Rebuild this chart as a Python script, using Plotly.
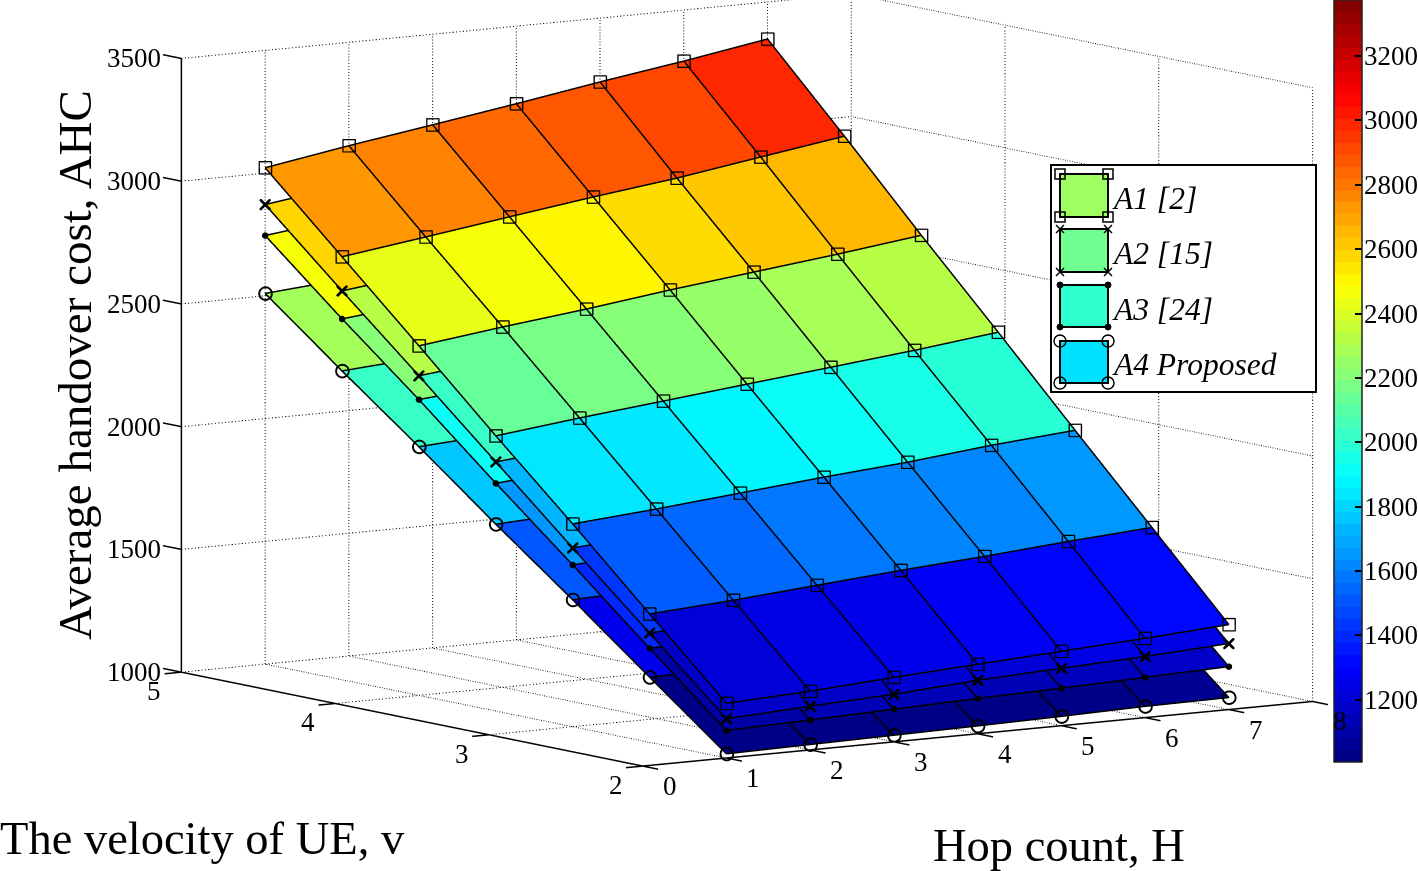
import numpy as np
import plotly.graph_objects as go

W, H = 1418, 871
hop = [1, 2, 3, 4, 5, 6, 7]
vel = [2, 2.5, 3, 3.5, 4, 4.5, 5]
x_ticks = [0, 1, 2, 3, 4, 5, 6, 7, 8]
y_ticks = [2, 3, 4, 5]
z_ticks = [1000, 1500, 2000, 2500, 3000, 3500]
cbar_ticks = [1200, 1400, 1600, 1800, 2000, 2200, 2400, 2600, 2800, 3000, 3200]

A1 = [[1223, 1239, 1263, 1283, 1303, 1323, 1346],
      [1523, 1546, 1574, 1602, 1626, 1654, 1678],
      [1826, 1854, 1886, 1918, 1946, 1982, 2010],
      [2121, 2161, 2197, 2233, 2269, 2305, 2346],
      [2424, 2468, 2508, 2553, 2593, 2633, 2677],
      [2723, 2771, 2820, 2868, 2912, 2965, 3017],
      [3022, 3079, 3131, 3184, 3240, 3292, 3349]]
A2 = [[1160, 1178, 1194, 1218, 1234, 1249, 1269],
      [1445, 1468, 1491, 1514, 1537, 1560, 1585],
      [1728, 1755, 1782, 1809, 1836, 1863, 1893],
      [2015, 2047, 2079, 2111, 2143, 2175, 2210],
      [2302, 2339, 2376, 2413, 2450, 2487, 2527],
      [2584, 2626, 2668, 2710, 2752, 2794, 2839],
      [2872, 2920, 2968, 3016, 3064, 3112, 3162]]
A3 = [[1112, 1122, 1133, 1144, 1153, 1164, 1175],
      [1383, 1399, 1415, 1431, 1447, 1463, 1480],
      [1659, 1681, 1703, 1725, 1747, 1769, 1792],
      [1928, 1955, 1982, 2009, 2036, 2063, 2092],
      [2205, 2237, 2269, 2301, 2333, 2365, 2399],
      [2470, 2506, 2542, 2578, 2614, 2650, 2688],
      [2746, 2787, 2828, 2869, 2910, 2951, 2994]]
A4 = [[1017, 1022, 1027, 1032, 1038, 1046, 1049],
      [1265, 1275, 1285, 1295, 1305, 1315, 1326],
      [1517, 1531, 1545, 1559, 1573, 1587, 1602],
      [1761, 1779, 1797, 1815, 1833, 1851, 1870],
      [2013, 2035, 2057, 2079, 2101, 2123, 2146],
      [2258, 2283, 2308, 2333, 2358, 2383, 2409],
      [2510, 2538, 2566, 2594, 2622, 2650, 2679]]

series = [("A1 [2]", A1, "square-open", 5.5, "#A0FF60"),
          ("A2 [15]", A2, "x", 2.5, "#70FF90"),
          ("A3 [24]", A3, "circle", 3.5, "#30FFD0"),
          ("A4 Proposed", A4, "circle-open", 8, "#00E0FF")]

CMIN, CMAX = 1007, 3374
SERIF = "Liberation Serif"


def jet(t):
    r = np.clip(min(4 * t - 1.5, -4 * t + 4.5), 0, 1)
    g = np.clip(min(4 * t - 0.5, -4 * t + 3.5), 0, 1)
    b = np.clip(min(4 * t + 0.5, -4 * t + 2.5), 0, 1)
    return f"rgb({int(r*255)},{int(g*255)},{int(b*255)})"


jet64 = []
for n in range(64):
    c = jet((n + 0.5) / 64)
    jet64 += [[n / 64, c], [(n + 1) / 64, c]]

# camera
xr, yr, zr = [-0.25, 8.25], [1.8, 5.2], [900, 3600]
ax_len = 820 / 8 * 8.5
ZOOM = 2.0
asp = dict(x=ZOOM * 0.992, y=ZOOM * 1.006 * 809 / 3 * 3.4 / ax_len, z=ZOOM * 620 / 2500 * 2700 / ax_len)
SCALE = 871.0 / ZOOM
DIST = 4.0
e = np.array([-0.561, -0.815, 0.14])
e = e / np.linalg.norm(e)
h = np.hypot(e[0], e[1])
r_v = np.array([-e[1], e[0], 0]) / h
u_v = np.array([-e[0] * e[2], -e[1] * e[2], h]) / h
DX, DY = 38, -55
center = (-DX * r_v + DY * u_v) / SCALE
eye = center + DIST * e


def toward_viewer(px):
    """data-space offset that moves a point towards the camera without moving it on screen"""
    w = e * px / SCALE
    return (w[0] * (xr[1] - xr[0]) / asp["x"], w[1] * (yr[1] - yr[0]) / asp["y"], w[2] * (zr[1] - zr[0]) / asp["z"])


fig = go.Figure()


def line3d(xs, ys, zs, dash="solid", width=2, color="black"):
    fig.add_trace(go.Scatter3d(x=xs, y=ys, z=zs, mode="lines", showlegend=False, hoverinfo="skip",
                               line=dict(color=color, width=width, dash=dash)))


# dotted grid
GRID = dict(dash="dot", width=2, color="#111111")
for xv in x_ticks:
    line3d([xv, xv], [2, 5], [1000, 1000], **GRID)
    line3d([xv, xv], [5, 5], [1000, 3500], **GRID)
for yv in y_ticks:
    line3d([0, 8], [yv, yv], [1000, 1000], **GRID)
    line3d([8, 8], [yv, yv], [1000, 3500], **GRID)
for zv in z_ticks:
    line3d([0, 8], [5, 5], [zv, zv], **GRID)
    line3d([8, 8], [2, 5], [zv, zv], **GRID)

# axes and tick marks
line3d([0, 8], [2, 2], [1000, 1000], width=3)
line3d([0, 0], [2, 5], [1000, 1000], width=3)
line3d([0, 0], [5, 5], [1000, 3500], width=3)
for xv in x_ticks:
    line3d([xv, xv], [2, 1.9], [1000, 1000], width=3)
for yv in y_ticks:
    line3d([0, -0.2], [yv, yv], [1000, 1000], width=3)
for zv in z_ticks:
    line3d([0, 0], [5, 5.12], [zv, zv], width=3)

# surfaces
ox, oy, oz = toward_viewer(3)
mx, my, mz = toward_viewer(14)
for idx, (name, Z, sym, size, _) in enumerate(series):
    Z = np.array(Z, float)
    X, Y = np.meshgrid(hop, vel)
    X = X.astype(float)
    Y = Y.astype(float)
    ny, nx = Z.shape
    ii, jj, kk, cell = [], [], [], []
    for r in range(ny - 1):
        for c in range(nx - 1):
            a = r * nx + c
            b = a + 1
            d = a + nx
            f = d + 1
            ii += [a, a]
            jj += [b, f]
            kk += [f, d]
            cell += [Z[r, c], Z[r, c]]
    fig.add_trace(go.Mesh3d(
        x=X.ravel(), y=Y.ravel(), z=Z.ravel(), i=ii, j=jj, k=kk,
        intensity=cell, intensitymode="cell", colorscale=jet64, cmin=CMIN, cmax=CMAX,
        flatshading=True, hoverinfo="skip", name=name,
        lighting=dict(ambient=1, diffuse=0, specular=0, fresnel=0, roughness=1),
        showscale=idx == 0,
        colorbar=dict(x=1334 / W, xanchor="left", y=1, yanchor="top", thickness=28, thicknessmode="pixels",
                      len=762, lenmode="pixels", xpad=0, ypad=0, outlinecolor="#222222", outlinewidth=1.5,
                      tickmode="array", tickvals=cbar_ticks, ticks="inside", ticklen=7, tickcolor="black",
                      tickwidth=1.5, showticklabels=False),
    ))
    for r in range(ny):
        line3d(X[r] + ox, Y[r] + oy, Z[r] + oz, width=3)
    for c in range(nx):
        line3d(X[:, c] + ox, Y[:, c] + oy, Z[:, c] + oz, width=3)
    fig.add_trace(go.Scatter3d(x=X.ravel() + mx, y=Y.ravel() + my, z=Z.ravel() + mz, mode="markers",
                               showlegend=False, hoverinfo="skip", name=name,
                               marker=dict(symbol=sym, size=size, color="black",
                                           line=dict(color="black", width=1))))

# tick labels
annots = []
for xv in x_ticks:
    annots.append(dict(x=xv, y=2, z=1000, text=str(xv), showarrow=False, xshift=27, yshift=-20,
                       font=dict(family=SERIF, size=27, color="black")))
for yv in y_ticks:
    annots.append(dict(x=0, y=yv, z=1000, text=str(yv), showarrow=False, xshift=-27, yshift=-19,
                       font=dict(family=SERIF, size=27, color="black")))
for zv in z_ticks:
    annots.append(dict(x=0, y=5, z=zv, text=str(zv), showarrow=False, xshift=-47, yshift=0,
                       font=dict(family=SERIF, size=27, color="black")))

shapes = []


def P(x):
    return x / W


def Q(y):
    return 1 - y / H


# legend
shapes.append(dict(type="rect", xref="paper", yref="paper", x0=P(1051), x1=P(1316), y0=Q(165), y1=Q(392),
                   fillcolor="white", line=dict(color="black", width=2)))
leg_rows = [(174, 217), (229, 272), (285, 327), (341, 383)]
for (top, bot), s in zip(leg_rows, series):
    shapes.append(dict(type="rect", xref="paper", yref="paper", x0=P(1060), x1=P(1108), y0=Q(top), y1=Q(bot),
                       fillcolor=s[4], line=dict(color="black", width=2)))
    for cx in (1060, 1108):
        for cy in (top, bot):
            if s[2] == "square-open":
                shapes.append(dict(type="rect", xref="paper", yref="paper", x0=P(cx - 5), x1=P(cx + 5),
                                   y0=Q(cy - 5), y1=Q(cy + 5), line=dict(color="black", width=1.5)))
            elif s[2] == "x":
                for sgn in (1, -1):
                    shapes.append(dict(type="line", xref="paper", yref="paper", x0=P(cx - 4), x1=P(cx + 4),
                                       y0=Q(cy - 4 * sgn), y1=Q(cy + 4 * sgn), line=dict(color="black", width=1.5)))
            elif s[2] == "circle":
                shapes.append(dict(type="circle", xref="paper", yref="paper", x0=P(cx - 3), x1=P(cx + 3),
                                   y0=Q(cy - 3), y1=Q(cy + 3), fillcolor="black", line=dict(color="black", width=1)))
            else:
                shapes.append(dict(type="circle", xref="paper", yref="paper", x0=P(cx - 6), x1=P(cx + 6),
                                   y0=Q(cy - 6), y1=Q(cy + 6), line=dict(color="black", width=1.5)))

paper_ann = []
# colour-bar ticks on the left edge, and labels
for t in cbar_ticks:
    py = 762 * (1 - (t - CMIN) / (CMAX - CMIN))
    shapes.append(dict(type="line", xref="paper", yref="paper", x0=P(1334), x1=P(1341), y0=Q(py), y1=Q(py),
                       line=dict(color="black", width=1.5)))
    paper_ann.append(dict(xref="paper", yref="paper", x=P(1362), y=Q(py), xanchor="left", yanchor="middle",
                          text=str(t), showarrow=False, font=dict(family=SERIF, size=27, color="black")))

leg_y = [198, 253, 309, 364]
for yy, s in zip(leg_y, series):
    paper_ann.append(dict(xref="paper", yref="paper", x=P(1110), y=Q(yy), xanchor="left", yanchor="middle",
                          text=f"<i>{s[0]}</i>", showarrow=False,
                          font=dict(family=SERIF, size=31.5, color="black")))
paper_ann += [
    dict(xref="paper", yref="paper", x=P(75), y=Q(365), xanchor="center", yanchor="middle",
         text="Average handover cost, AHC", textangle=-90,
         showarrow=False, font=dict(family=SERIF, size=47, color="black")),
    dict(xref="paper", yref="paper", x=P(202), y=Q(838), xanchor="center", yanchor="middle",
         text="The velocity of UE, v", showarrow=False, font=dict(family=SERIF, size=46.5, color="black")),
    dict(xref="paper", yref="paper", x=P(1059), y=Q(845), xanchor="center", yanchor="middle",
         text="Hop count, H", showarrow=False, font=dict(family=SERIF, size=46.5, color="black")),
]

hidden = dict(visible=False)
fig.update_layout(
    width=W, height=H, margin=dict(l=0, r=0, t=0, b=0, autoexpand=False), paper_bgcolor="white", showlegend=False,
    shapes=shapes, annotations=paper_ann,
    scene=dict(
        domain=dict(x=[0, 1], y=[0, 1]),
        xaxis=dict(range=xr, **hidden), yaxis=dict(range=yr, **hidden), zaxis=dict(range=zr, **hidden),
        aspectmode="manual", aspectratio=asp, annotations=annots,
        camera=dict(projection=dict(type="orthographic"), eye=dict(x=eye[0], y=eye[1], z=eye[2]),
                    center=dict(x=center[0], y=center[1], z=center[2]), up=dict(x=0, y=0, z=1)),
    ),
)
fig.write_html("out.html", post_script="document.body.style.margin='0';",
               config=dict(displayModeBar=False))
